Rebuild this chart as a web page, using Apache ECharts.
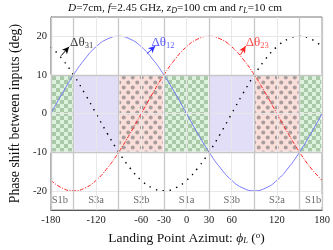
<!DOCTYPE html>
<html><head><meta charset="utf-8">
<script src="https://cdn.jsdelivr.net/npm/echarts@6/dist/echarts.min.js"></script>
<style>html,body{margin:0;padding:0;background:#fff}#c{width:333px;height:250px}</style>
</head><body><div id="c"></div>
<script>
// ---- data ----
const azimuth  = [-180,-165,-150,-135,-120,-105,-90,-75,-60,-45,-30,-15,0,15,30,45,60,75,90,105,120,135,150,165,180];
const dTheta12 = [0,5.2,10,14.1,17.3,19.3,20,19.3,17.3,14.1,10,5.2,0,-5.2,-10,-14.1,-17.3,-19.3,-20,-19.3,-17.3,-14.1,-10,-5.2,0];
const dTheta23 = [-17.3,-19.3,-20,-19.3,-17.3,-14.1,-10,-5.2,0,5.2,10,14.1,17.3,19.3,20,19.3,17.3,14.1,10,5.2,0,-5.2,-10,-14.1,-17.3];
const dTheta31 = [17.3,14.1,10,5.2,0,-5.2,-10,-14.1,-17.3,-19.3,-20,-19.3,-17.3,-14.1,-10,-5.2,0,5.2,10,14.1,17.3,19.3,20,19.3,17.3];
const xTicks = [-180,-120,-60,-30,0,30,60,120,180];
const yTicks = [-20,-10,0,10,20];
const sectorBounds = [-180,-150,-90,-30,30,90,150,180];
const sectorNames  = ['S1b','S3a','S2b','S1a','S3b','S2a','S1b'];
const sectorKinds  = ['check','solid','dots','check','solid','dots','check'];
const sectorLabelAt = [-168,-120,-60,0,60,120,168];
const sectorLow = -10, sectorHigh = 10;

// ---- patterns ----
function mk(w,h,draw){const c=document.createElement('canvas');c.width=w;c.height=h;draw(c.getContext('2d'));return c;}
const checker = mk(8,8,g=>{g.fillStyle='#dcf2dc';g.fillRect(0,0,8,8);g.fillStyle='#a9c9a9';g.fillRect(0,0,4,4);g.fillRect(4,4,4,4);});
const dots = mk(9,10,g=>{g.fillStyle='#fadeda';g.fillRect(0,0,9,10);g.fillStyle='#a99c9c';
  [[2.25,2.5],[6.75,7.5]].forEach(p=>{g.beginPath();g.arc(p[0],p[1],2,0,Math.PI*2);g.fill();});});
const fills = {check:{image:checker,repeat:'repeat'}, dots:{image:dots,repeat:'repeat'}, solid:'#e3def8'};

const serif = 'Liberation Serif';
const areaData = sectorNames.map((n,i)=>[
  {xAxis:sectorBounds[i], yAxis:sectorLow, itemStyle:{color:fills[sectorKinds[i]], borderColor:'#fff', borderWidth:1.5}},
  {xAxis:sectorBounds[i+1], yAxis:sectorHigh}
]);

const light = {color:'#e8e8e8', width:1, type:'solid'};
const mid = {color:'#c8c8c8', width:1.3, type:'solid'};
const gridLines = [
  ...xTicks.map(v=>({xAxis:v, lineStyle:light})),
  ...yTicks.map(v=>({yAxis:v, lineStyle:light})),
  ...sectorBounds.map(v=>({xAxis:v, lineStyle:mid})),
  {yAxis:sectorLow, lineStyle:mid},{yAxis:sectorHigh, lineStyle:mid}
];

const annotations = [
  {name:'31', color:'#000', text:[-154.5,18.3], tail:[-166.3,15], head:[-155.8,17.3]},
  {name:'12', color:'#3030ff', text:[-46.5,18.3], tail:[-52.5,15.5], head:[-41.5,17.5]},
  {name:'23', color:'#ff2020', text:[78.5,18.3], tail:[71.6,15.2], head:[78.5,17.5]}
];

const chart = echarts.init(document.getElementById('c'));
chart.setOption({
  animation:false,
  graphic:[{type:'text', x:175, y:8, silent:true, style:{
    text:'{i|D}=7cm, {i|f}=2.45 GHz, {i|z}{s|D}=100 cm and {i|r}{s|L}=10 cm',
    align:'center', verticalAlign:'middle', fontFamily:serif, fontSize:11.3, fill:'#111',
    rich:{i:{fontFamily:serif,fontSize:11.3,fontStyle:'italic',fill:'#111'},
          s:{fontFamily:serif,fontSize:8,fontStyle:'italic',fill:'#111',verticalAlign:'bottom',padding:[5,0,0,0]}}}}],
  grid:{left:34, right:10, top:17, bottom:33, show:true, borderColor:'#777', borderWidth:1, backgroundColor:'transparent'},
  xAxis:{type:'value', min:-180, max:180,
    name:'Landing Point Azimut: {i|ϕ}{s|L} ({o|o})', nameLocation:'middle', nameGap:17,
    nameTextStyle:{fontFamily:serif, fontSize:13.5, color:'#111',
      rich:{i:{fontFamily:serif,fontSize:13.5,fontStyle:'italic',color:'#111'},
            s:{fontFamily:serif,fontSize:8.5,fontStyle:'italic',color:'#111',verticalAlign:'bottom',padding:[5,0,0,0]},
            o:{fontFamily:serif,fontSize:9,color:'#111',verticalAlign:'top',padding:[0,0,4,0]}}},
    axisLine:{show:true, onZero:false, lineStyle:{color:'#555', width:1}},
    axisTick:{show:true, inside:true, length:3, customValues:xTicks, lineStyle:{color:'#555'}},
    axisLabel:{customValues:xTicks, fontFamily:serif, fontSize:10.5, color:'#222', margin:5},
    splitLine:{show:false}
  },
  yAxis:{type:'value', min:-25, max:25,
    name:'Phase shift between inputs (deg)', nameLocation:'middle', nameGap:20,
    nameTextStyle:{fontFamily:serif, fontSize:13.8, color:'#111'},
    axisLine:{show:true, onZero:false, lineStyle:{color:'#555', width:1}},
    axisTick:{show:true, inside:true, length:3, customValues:yTicks, lineStyle:{color:'#555'}},
    axisLabel:{customValues:yTicks, fontFamily:serif, fontSize:10.5, color:'#222', margin:4},
    splitLine:{show:false}
  },
  series:[
    {type:'line', data:[], z:1, silent:true, markArea:{silent:true, data:areaData}},
    {type:'line', data:[], z:2, silent:true, markLine:{silent:true, symbol:'none', label:{show:false}, data:gridLines}},
    {name:'dTheta12', type:'line', z:3, smooth:true, showSymbol:false, data:azimuth.map((x,i)=>[x,dTheta12[i]]),
      lineStyle:{color:'#6a6aff', width:0.9}},
    {name:'dTheta23', type:'line', z:3, smooth:true, showSymbol:false, data:azimuth.map((x,i)=>[x,dTheta23[i]]),
      lineStyle:{color:'#ff2020', width:1, type:[4,1.5,1,1.5]}},
    {name:'dTheta31', type:'line', z:3, smooth:true, showSymbol:false, data:azimuth.map((x,i)=>[x,dTheta31[i]]),
      lineStyle:{color:'#000', width:1.4, type:[1.4,5.5]}},
    {type:'scatter', z:4, silent:true, symbolSize:0, data:sectorLabelAt.map((x,i)=>[x,-22.5]),
      label:{show:true, position:'inside', formatter:p=>sectorNames[p.dataIndex], fontFamily:serif, fontSize:10.5, color:'#444',
        backgroundColor:'#fff', padding:[1,1]}},
    {type:'scatter', z:5, silent:true, symbolSize:0, data:annotations.map(a=>a.text),
      label:{show:true, position:'right', distance:0,
        formatter:p=>'{d'+p.dataIndex+'|Δθ}{s'+p.dataIndex+'|'+annotations[p.dataIndex].name+'}',
        rich:Object.assign({}, ...annotations.map((a,i)=>({
          ['d'+i]:{fontFamily:serif,fontSize:13,color:a.color},
          ['s'+i]:{fontFamily:serif,fontSize:8.5,color:a.color,verticalAlign:'bottom',padding:[5,0,0,0]}})))},
      markLine:{silent:true, symbol:['none','arrow'], symbolSize:[5,7], label:{show:false},
        data:annotations.map(a=>[{coord:a.tail, lineStyle:{color:a.color,width:1,type:'solid'}},{coord:a.head}])}
    }
  ]
});
</script></body></html>
